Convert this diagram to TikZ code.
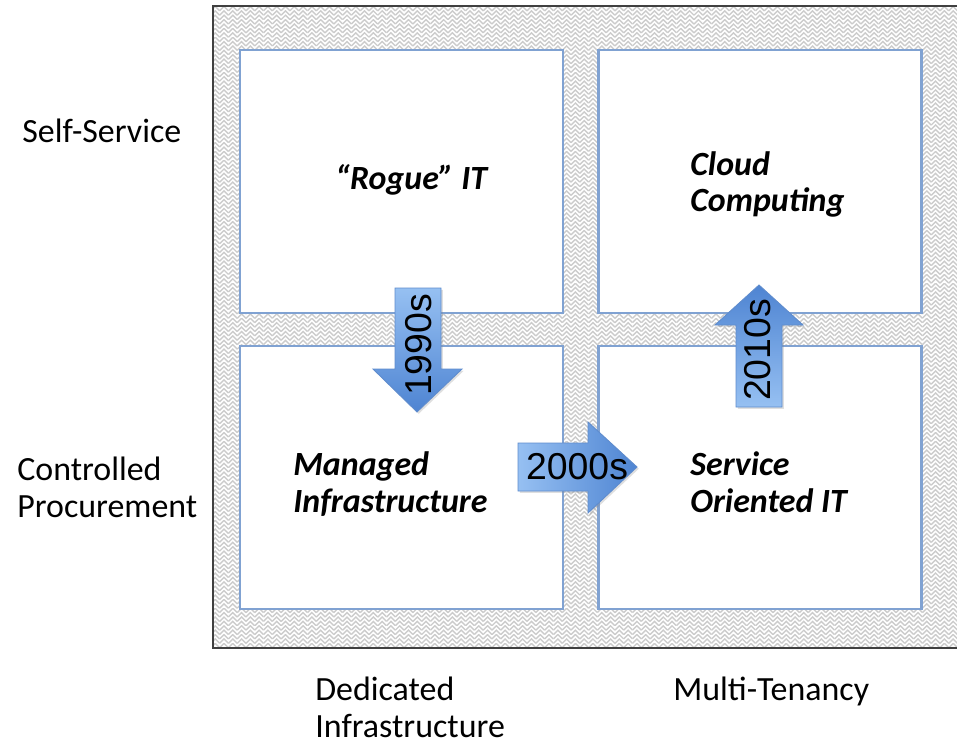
\documentclass[tikz,border=0pt]{standalone}
\usepackage{fontspec}
\setmainfont{Carlito}
\newfontfamily\arialfont{Liberation Sans}
\usetikzlibrary{patterns.meta,shadows}

\tikzdeclarepattern{
	name=weave,
	type=uncolored,
	bottom left={(-.1pt,-.1pt)},
	top right={(5.1pt,5.1pt)},
	tile size={(5pt,5pt)},
	code={
		\draw[line width=0.8pt] (0,0) -- (2.5pt,2.5pt) -- (5pt,0);
		\draw[line width=0.8pt] (0,2.5pt) -- (2.5pt,5pt) -- (5pt,2.5pt);
	}
}

\definecolor{boxblue}{RGB}{128,162,210}
\definecolor{arrowlight}{RGB}{150,192,242}
\definecolor{arrowdark}{RGB}{78,132,210}
\definecolor{arrowedge}{RGB}{95,140,205}

\tikzset{
	quad/.style={rectangle, draw=boxblue, line width=1.4pt, fill=white,
		minimum width=6.46cm, minimum height=5.26cm, inner sep=0pt},
	label/.style={anchor=base west, inner sep=0pt, align=left,
		font=\fontsize{19.3}{21}\selectfont},
	title/.style={label, font=\fontsize{19.3}{20.5}\selectfont\bfseries\itshape},
	decade/.style={inner sep=0pt, font=\arialfont\fontsize{21.3}{24}\selectfont},
	bigarrow/.style={draw=arrowedge, line width=0.5pt,
		drop shadow={shadow xshift=1pt, shadow yshift=-1pt, opacity=0.25}}
}

\begin{document}
\begin{tikzpicture}[x=0.02cm, y=-0.02cm]
	\useasboundingbox (0,0) rectangle (957,740);
	
	% frame with the woven fill
	\node[rectangle, inner sep=0pt, minimum width=15.0cm, minimum height=12.84cm,
		pattern={weave}, pattern color=gray!40, draw=black!75, line width=1.6pt]
		(frame) at (588,327) {};
	
	\begin{scope}[every node/.style={quad}]
	\node (1-1) at (401.5, 181.5) {};
	\node (1-2) at (760,   181.5) {};
	
	\node (2-1) at (401.5, 477.5) {};
	\node (2-2) at (760,   477.5) {};
	\end{scope}
	
	% quadrant titles (base = last line)
	\node[title] (rogue)   at (335, 190) {“Rogue” IT};
	\node[title] (cloud)   at (690, 212) {Cloud\\Computing};
	\node[title] (managed) at (293, 512) {Managed\\Infrastructure};
	\node[title] (soa)     at (690, 512) {Service\\Oriented IT};
	
	% axis labels
	\node[label] (self)    at (22,  143) {Self-Service};
	\node[label] (ctrl)    at (17,  517) {Controlled\\Procurement};
	\node[label] (dedic)   at (315, 737) {Dedicated\\Infrastructure};
	\node[label] (multi)   at (673, 700) {Multi-Tenancy};
	
	% the three decade arrows
	\path[bigarrow, top color=arrowlight, bottom color=arrowdark]
		(395,288) -- (441,288) -- (441,369) -- (462,369) -- (417,412)
		-- (373,369) -- (395,369) -- cycle;
	\node[decade, rotate=90] (d1990) at (419, 345) {1990s};
	
	\path[bigarrow, left color=arrowlight, right color=arrowdark]
		(518,443) -- (588,443) -- (588,422) -- (637,467) -- (588,513)
		-- (588,491) -- (518,491) -- cycle;
	\node[decade] (d2000) at (577, 467) {2000s};
	
	\path[bigarrow, bottom color=arrowlight, top color=arrowdark]
		(736,407) -- (782,407) -- (782,325) -- (803,325) -- (759,285)
		-- (715,325) -- (736,325) -- cycle;
	\node[decade, rotate=90] (d2010) at (758, 350) {2010s};
	
\end{tikzpicture}
\end{document}
